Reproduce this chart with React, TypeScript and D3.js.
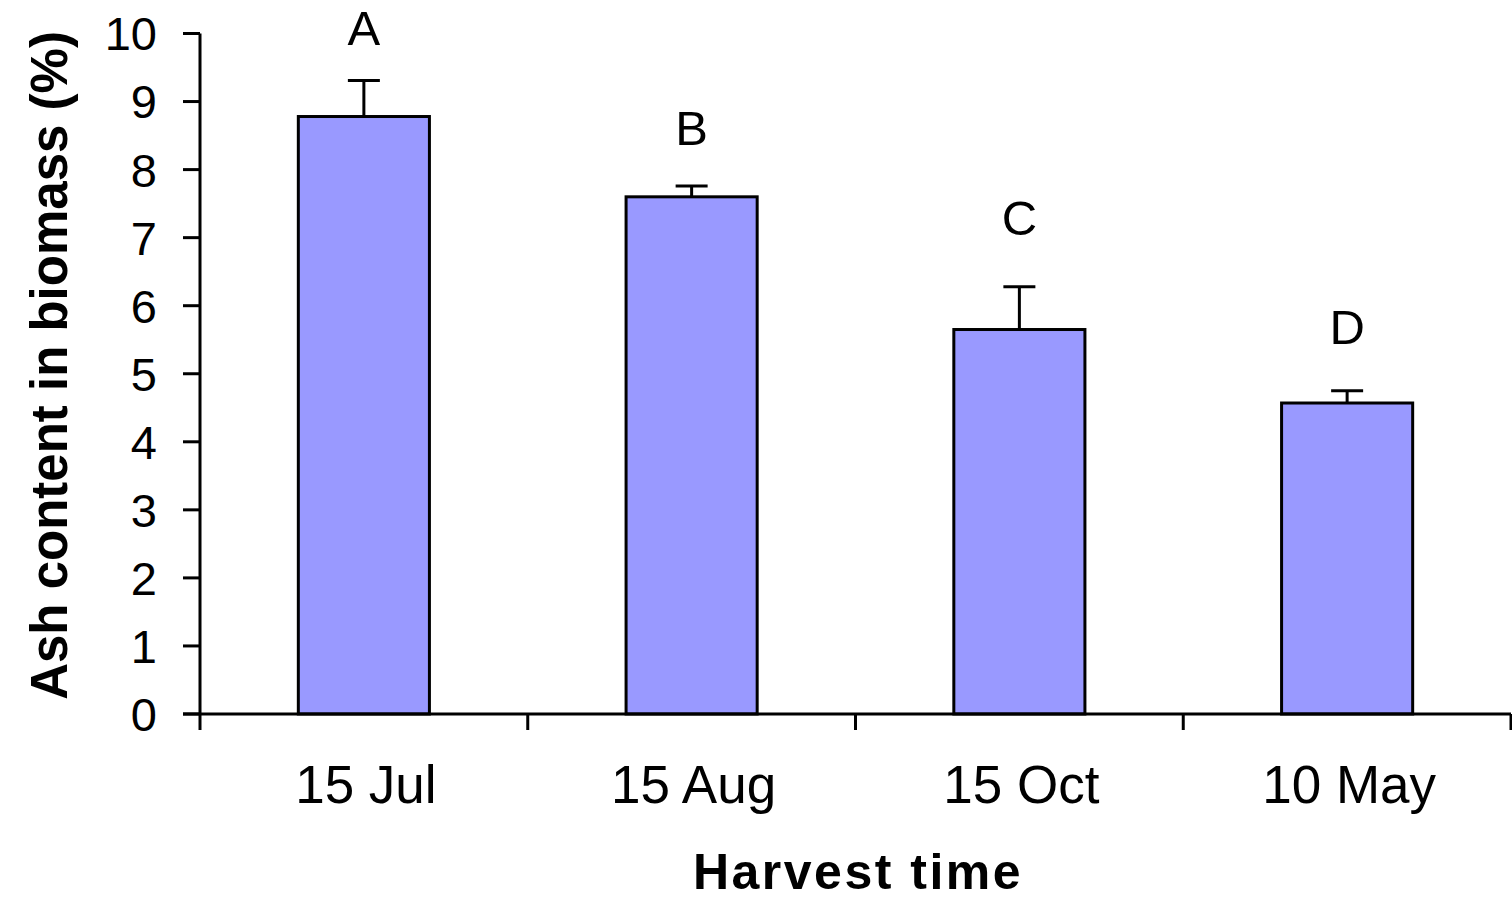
import React from "react";
import * as d3 from "d3";

const categories = ["15 Jul", "15 Aug", "15 Oct", "10 May"];
const means = [8.78, 7.6, 5.65, 4.57];
const errors = [0.53, 0.16, 0.63, 0.18];
const letters = ["A", "B", "C", "D"];
const letterLevels = [9.83, 8.36, 7.04, 5.44];
const yTicks = [0, 1, 2, 3, 4, 5, 6, 7, 8, 9, 10];

const W = 1512;
const H = 898;
const left = 200;
const right = 1511;
const top = 33.5;
const bottom = 714;

export default function App() {
  const x = d3
    .scaleBand<string>()
    .domain(categories)
    .range([left, right])
    .paddingInner(0.6)
    .paddingOuter(0.3);
  const y = d3.scaleLinear().domain([0, 10]).range([bottom, top]);
  const step = x.step();
  const bw = x.bandwidth();
  const font = "'Liberation Sans', Arial, sans-serif";
  const boundaries = d3.range(categories.length + 1).map((i) => left + i * step);

  return (
    <svg
      width={W}
      height={H}
      style={{ position: "absolute", left: 0, top: 0, background: "#fff" }}
      fontFamily={font}
    >
      {categories.map((c, i) => (
        <g key={c}>
          <line
            x1={x(c)! + bw / 2}
            x2={x(c)! + bw / 2}
            y1={y(means[i])}
            y2={y(means[i] + errors[i])}
            stroke="#000"
            strokeWidth={3}
          />
          <line
            x1={x(c)! + bw / 2 - 16}
            x2={x(c)! + bw / 2 + 16}
            y1={y(means[i] + errors[i])}
            y2={y(means[i] + errors[i])}
            stroke="#000"
            strokeWidth={3}
          />
          <rect
            x={x(c)}
            y={y(means[i])}
            width={bw}
            height={y(0) - y(means[i])}
            fill="#9999FF"
            stroke="#000"
            strokeWidth={3}
          />
          <text
            x={x(c)! + bw / 2}
            y={y(letterLevels[i])}
            textAnchor="middle"
            fontSize={49}
            fill="#000"
          >
            {letters[i]}
          </text>
          <text
            x={x(c)! + bw / 2 + 2}
            y={803}
            textAnchor="middle"
            fontSize={53}
            fill="#000"
          >
            {c}
          </text>
        </g>
      ))}
      <line x1={left} x2={left} y1={y(10)} y2={y(0)} stroke="#000" strokeWidth={3} />
      {yTicks.map((t) => (
        <g key={t}>
          <line x1={left - 17} x2={left} y1={y(t)} y2={y(t)} stroke="#000" strokeWidth={3} />
          <text
            x={157}
            y={y(t)}
            dy="0.36em"
            textAnchor="end"
            fontSize={47}
            fill="#000"
          >
            {t}
          </text>
        </g>
      ))}
      <line x1={left - 17} x2={right} y1={y(0)} y2={y(0)} stroke="#000" strokeWidth={3} />
      {boundaries.map((b, i) => (
        <line key={i} x1={b} x2={b} y1={y(0)} y2={730} stroke="#000" strokeWidth={3} />
      ))}
      <text
        x={858}
        y={889}
        textAnchor="middle"
        fontSize={50}
        fontWeight="bold"
        letterSpacing={2.5}
        fill="#000"
      >
        Harvest time
      </text>
      <text
        transform={`translate(67, ${(36 + 695) / 2}) rotate(-90)`}
        textAnchor="middle"
        fontSize={51}
        fontWeight="bold"
        fill="#000"
      >
        Ash content in biomass (%)
      </text>
    </svg>
  );
}
